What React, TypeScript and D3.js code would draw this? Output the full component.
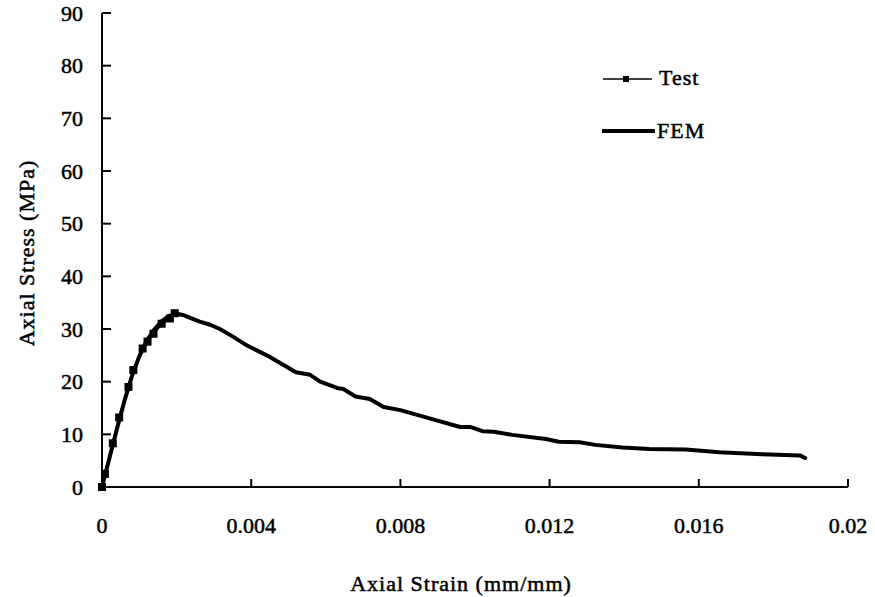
import React from "react";
import * as d3 from "d3";

const testStrain = [0, 0.00008, 0.00029, 0.00046, 0.00071, 0.00084, 0.00109, 0.00122, 0.00138, 0.0016, 0.00182, 0.00195];
const testStress = [0, 2.5, 8.3, 13.2, 19.0, 22.2, 26.3, 27.6, 29.1, 31.0, 32.0, 33.0];

const femStrain = [0, 0.0002, 0.0004, 0.0006, 0.0008, 0.001, 0.0012, 0.0014, 0.0016, 0.0018, 0.002, 0.0022, 0.00262, 0.0029, 0.00316, 0.0035, 0.00388, 0.0045, 0.0052, 0.00558, 0.00585, 0.0063, 0.00647, 0.0068, 0.00718, 0.00755, 0.008, 0.0089, 0.0096, 0.00987, 0.0102, 0.0105, 0.011, 0.0119, 0.01225, 0.0128, 0.01323, 0.01395, 0.01467, 0.01565, 0.01655, 0.0177, 0.01871, 0.01885];
const femStress = [0, 5.5, 11, 16.3, 21.0, 24.8, 27.8, 29.9, 31.5, 32.5, 32.9, 32.6, 31.4, 30.8, 30.0, 28.6, 26.9, 24.7, 21.8, 21.3, 20.0, 18.8, 18.6, 17.2, 16.7, 15.2, 14.6, 12.8, 11.4, 11.4, 10.6, 10.5, 9.9, 9.1, 8.6, 8.5, 8.0, 7.5, 7.2, 7.1, 6.6, 6.2, 6.0, 5.5];

const xTicks = [0, 0.004, 0.008, 0.012, 0.016, 0.02];
const xTickLabels = ["0", "0.004", "0.008", "0.012", "0.016", "0.02"];
const yTicks = [0, 10, 20, 30, 40, 50, 60, 70, 80, 90];

const seriesNames = ["Test", "FEM"];

export default function App() {
  const W = 875, H = 597;
  const x = d3.scaleLinear().domain([0, 0.02]).range([102, 848]);
  const y = d3.scaleLinear().domain([0, 90]).range([487, 13]);
  const testPts: [number, number][] = testStrain.map((s, i) => [x(s), y(testStress[i])]);
  const femPts: [number, number][] = femStrain.map((s, i) => [x(s), y(femStress[i])]);
  const line = d3.line().curve(d3.curveLinear);
  const ts: React.CSSProperties = {
    fontFamily: "Liberation Serif",
    fontSize: "22px",
    fill: "#000",
    stroke: "#000",
    strokeWidth: 0.5,
  };
  const tsTitle: React.CSSProperties = { ...ts, letterSpacing: "1px" };
  return (
    <svg width={W} height={H} style={{ position: "absolute", left: 0, top: 0, background: "#fff" }}>
      <rect x={0} y={0} width={W} height={H} fill="#fff" />
      <line x1={x(0)} x2={x(0)} y1={y(90)} y2={y(0)} stroke="#000" strokeWidth={2} />
      <line x1={x(0)} x2={x(0.02)} y1={y(0)} y2={y(0)} stroke="#000" strokeWidth={2} />
      {yTicks.map((t) => (
        <g key={"y" + t}>
          <line x1={x(0)} x2={x(0) + 9} y1={y(t)} y2={y(t)} stroke="#000" strokeWidth={2} />
          <text x={x(0) - 19} y={y(t)} dy="0.35em" textAnchor="end" style={ts}>
            {t}
          </text>
        </g>
      ))}
      {xTicks.map((t, i) => (
        <g key={"x" + i}>
          <line x1={x(t)} x2={x(t)} y1={y(0)} y2={y(0) - 8} stroke="#000" strokeWidth={2} />
          <text x={x(t)} y={y(0) + 46} textAnchor="middle" style={ts}>
            {xTickLabels[i]}
          </text>
        </g>
      ))}
      <text x={461} y={591} textAnchor="middle" style={tsTitle}>
        Axial Strain (mm/mm)
      </text>
      <text transform="translate(34,253) rotate(-90)" textAnchor="middle" style={tsTitle}>
        Axial Stress (MPa)
      </text>
      <path d={line(femPts) || ""} fill="none" stroke="#000" strokeWidth={4} strokeLinejoin="round" strokeLinecap="round" />
      <path d={line(testPts) || ""} fill="none" stroke="#000" strokeWidth={2.5} />
      {testPts.map((p, i) => (
        <rect key={"m" + i} x={p[0] - 4} y={p[1] - 4} width={8} height={8} fill="#000" />
      ))}
      <line x1={603} x2={652} y1={79} y2={79} stroke="#000" strokeWidth={1.5} />
      <rect x={623} y={76} width={6} height={6} fill="#000" />
      <text x={659} y={85} style={tsTitle}>{seriesNames[0]}</text>
      <line x1={602} x2={655} y1={131} y2={131} stroke="#000" strokeWidth={4} />
      <text x={657} y={138} style={tsTitle}>{seriesNames[1]}</text>
    </svg>
  );
}
